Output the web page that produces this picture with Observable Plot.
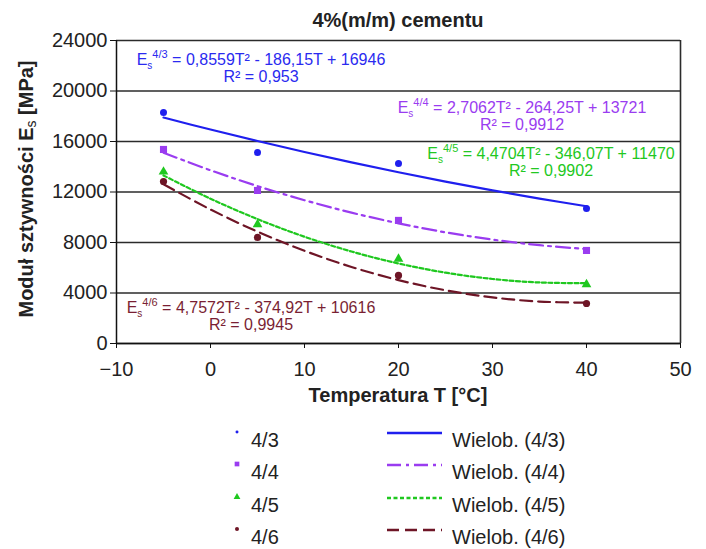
<!DOCTYPE html>
<html>
<head>
<meta charset="utf-8">
<script src="https://cdn.jsdelivr.net/npm/d3@7"></script>
<script src="https://cdn.jsdelivr.net/npm/@observablehq/plot@0.6"></script>
<style>
  body { margin: 0; background: #fff; font-family: "Liberation Sans", Arial, sans-serif; color: #222; }
  #wrap { position: relative; width: 706px; height: 549px; overflow: hidden; }
  #title { position: absolute; left: 398px; top: 9px; transform: translateX(-50%); white-space: nowrap;
           font-weight: bold; font-size: 20px; line-height: 23px; color: #222; }
  #chart { position: absolute; left: 0; top: 32px; }
  #legend { position: absolute; left: 0; top: 412px; width: 706px; height: 137px; }
  .lg-item { position: absolute; font-size: 20px; line-height: 23px; white-space: nowrap; color: #222; }
  .lg-sym { position: absolute; overflow: visible; }
</style>
</head>
<body>
<div id="wrap">
  <div id="title"></div>
  <div id="chart"></div>
  <div id="legend"></div>
</div>
<script>
// ---------- data ----------
const titleText = "4%(m/m) cementu";
const xLabelText = "Temperatura T [°C]";
const yLabelMain = "Moduł sztywności E";
const yLabelSub = "s";
const yLabelUnit = " [MPa]";

const seriesNames = ["4/3", "4/4", "4/5", "4/6"];
const trendNames = ["Wielob. (4/3)", "Wielob. (4/4)", "Wielob. (4/5)", "Wielob. (4/6)"];

const temps = [-5, 5, 20, 40];
const es43 = [18300, 15130, 14260, 10700];
const es44 = [15370, 12120, 9750, 7370];
const es45 = [13600, 9430, 6700, 4680];
const es46 = [12830, 8400, 5390, 3170];

const fitTemps = [-5, 0, 5, 10, 15, 20, 25, 30, 35, 40];
const fit43 = [17898, 16946, 16037, 15170, 14346, 13565, 12827, 12132, 11479, 10869];
const fit44 = [15110, 13721, 12467, 11349, 10366, 9518, 8806, 8229, 7787, 7481];
const fit45 = [13312, 11470, 9851, 8456, 7285, 6337, 5612, 5111, 4834, 4780];
const fit46 = [12610, 10616, 8860, 7343, 6063, 5021, 4216, 3650, 3321, 3231];

const eqFormulas = ["0,8559T² - 186,15T + 16946", "2,7062T² - 264,25T + 13721",
                    "4,4704T² - 346,07T + 11470", "4,7572T² - 374,92T + 10616"];
const eqR2 = ["R² = 0,953", "R² = 0,9912", "R² = 0,9902", "R² = 0,9945"];

const xTicks = [-10, 0, 10, 20, 30, 40, 50];
const yTicks = [0, 4000, 8000, 12000, 16000, 20000, 24000];

// ---------- styles ----------
const colors = ["#1f1fee", "#9a3cf0", "#1fc81f", "#6e1526"];
const textColors = ["#2a2af0", "#9a3cf0", "#22c822", "#7a1f33"];
const dashes = [null, "14,5,3,5", "4,2.5", "12,6"];
const symbols = ["circle", "square", "triangle", "circle"];
const symR = [3.5, 4.0, 3.6, 3.6];
// equation label anchors (svg px): center x, baseline y
const eqPos = [[261, 33], [522, 81], [551, 127], [251, 281]];

const seriesVals = [es43, es44, es45, es46];
const fitVals = [fit43, fit44, fit45, fit46];

const points = [];
seriesVals.forEach((vals, i) => vals.forEach((v, j) => points.push({s: i, T: temps[j], E: v})));
const fits = [];
fitVals.forEach((vals, i) => vals.forEach((v, j) => fits.push({s: i, T: fitTemps[j], E: v})));

const fmtX = d => d < 0 ? "\u2212" + (-d) : String(d);

const marks = [
  Plot.gridY(yTicks, {stroke: "#2b2b2b", strokeOpacity: 1, strokeWidth: 1.3}),
  Plot.ruleX([50], {stroke: "#2b2b2b", strokeWidth: 1.6}),
  Plot.ruleX([-10], {stroke: "#111", strokeWidth: 1.5}),
  Plot.ruleY([0], {stroke: "#111", strokeWidth: 1.5}),
  Plot.axisX(xTicks, {tickSize: 5, tickPadding: 13, tickFormat: fmtX, fontSize: 20, label: null, fill: "#222", stroke: "#111"}),
  Plot.axisY(yTicks, {tickSize: 6, tickPadding: 3, tickFormat: d => String(d), fontSize: 20, label: null, fill: "#222", stroke: "#111"})
];
for (let i = 0; i < 4; i++) {
  marks.push(Plot.line(fits.filter(d => d.s === i), {
    x: "T", y: "E", curve: "catmull-rom", stroke: colors[i], strokeWidth: 2.2,
    strokeDasharray: dashes[i] || undefined
  }));
}
for (let i = 0; i < 4; i++) {
  marks.push(Plot.dot(points.filter(d => d.s === i), {
    x: "T", y: "E", symbol: symbols[i], r: symR[i], fill: colors[i], stroke: "none"
  }));
}

const chart = Plot.plot({
  width: 706,
  height: 380,
  marginLeft: 116,
  marginRight: 26,
  marginTop: 8,
  marginBottom: 69,
  style: {fontFamily: "'Liberation Sans', Arial, sans-serif", fontSize: "20px", overflow: "visible", background: "transparent"},
  x: {type: "linear", domain: [-10, 50]},
  y: {type: "linear", domain: [0, 24000]},
  marks
});
document.getElementById("chart").appendChild(chart);
document.getElementById("title").textContent = titleText;

const svg = d3.select(chart);
const ff = "'Liberation Sans', Arial, sans-serif";

// axis titles
svg.append("text")
  .attr("x", 398).attr("y", 370).attr("text-anchor", "middle")
  .attr("font-family", ff).attr("font-size", 20).attr("font-weight", "bold").attr("fill", "#222")
  .text(xLabelText);

const yl = svg.append("text")
  .attr("transform", "translate(33,157) rotate(-90)")
  .attr("text-anchor", "middle")
  .attr("font-family", ff).attr("font-size", 20).attr("font-weight", "bold").attr("fill", "#222");
yl.append("tspan").text(yLabelMain);
yl.append("tspan").attr("font-size", 14).attr("font-weight", "normal").attr("dy", 3).text(yLabelSub);
yl.append("tspan").attr("dy", -3).text(yLabelUnit);

// equations
for (let i = 0; i < 4; i++) {
  const [cx, by] = eqPos[i];
  const g = svg.append("g").attr("fill", textColors[i]).attr("font-family", ff)
    .attr("font-size", 16).attr("text-anchor", "middle");
  const t = g.append("text").attr("x", cx).attr("y", by);
  t.append("tspan").text("E");
  t.append("tspan").attr("font-size", 10).attr("dy", 4).text("s");
  t.append("tspan").attr("font-size", 11).attr("dy", -11).text(seriesNames[i]);
  t.append("tspan").attr("dy", 7).text(" = " + eqFormulas[i]);
  g.append("text").attr("x", cx).attr("y", by + 17).text(eqR2[i]);
}

// legend
const legend = d3.select("#legend");
const rowY = [28, 60, 93, 125];
for (let i = 0; i < 4; i++) {
  const cy = rowY[i];
  const ms = legend.append("svg").attr("class", "lg-sym")
    .style("left", "229px").style("top", (cy - 16) + "px").attr("width", 16).attr("height", 16);
  const sym = {circle: d3.symbolCircle, square: d3.symbolSquare, triangle: d3.symbolTriangle}[symbols[i]];
  const sz = [7, 22, 20, 13][i];
  ms.append("path").attr("transform", "translate(8,8)").attr("d", d3.symbol(sym, sz)()).attr("fill", colors[i]);
  legend.append("div").attr("class", "lg-item")
    .style("left", "251px").style("top", (cy - 11.5) + "px").text(seriesNames[i]);
  const ls = legend.append("svg").attr("class", "lg-sym")
    .style("left", "386px").style("top", (cy - 12) + "px").attr("width", 58).attr("height", 10);
  ls.append("line").attr("x1", 1).attr("x2", 56).attr("y1", 5).attr("y2", 5)
    .attr("stroke", colors[i]).attr("stroke-width", 2.4)
    .attr("stroke-dasharray", dashes[i] || null);
  legend.append("div").attr("class", "lg-item")
    .style("left", "452px").style("top", (cy - 11.5) + "px").text(trendNames[i]);
}
</script>
</body>
</html>
